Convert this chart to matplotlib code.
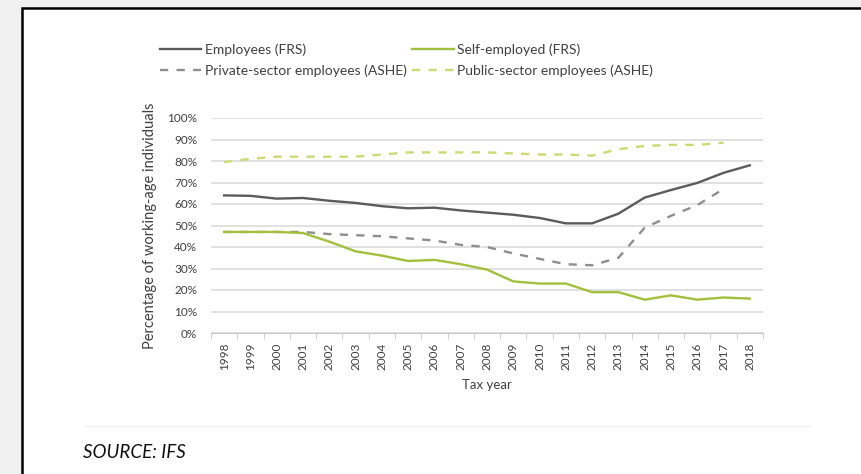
import matplotlib as mpl
mpl.use('Agg')

import matplotlib.pyplot as plt
from matplotlib.patches import Rectangle
from matplotlib.lines import Line2D
from matplotlib.ticker import FixedLocator, FuncFormatter
import numpy as np

# Data (percent of working-age individuals)
years = list(range(1998, 2019))
employees_frs = [64, 63.8, 62.5, 62.8, 61.5, 60.5, 59, 58, 58.3, 57, 56,
                 55, 53.5, 51, 51, 55.5, 63, 66.5, 69.8, 74.5, 78]
self_employed_frs = [47, 47, 47, 46.5, 42.5, 38, 36, 33.5, 34, 32, 29.5,
                     24, 23, 23, 19, 19, 15.5, 17.5, 15.5, 16.5, 16]
private_ashe = [47, 47, 47, 47, 46, 45.5, 45, 44, 43, 41, 40,
                37, 34.5, 32, 31.5, 35, 49, 54.5, 59.5, 67, np.nan]
public_ashe = [79.5, 81, 82, 82, 82, 82, 83, 84, 84, 84, 84,
               83.5, 83, 83, 82.5, 85.5, 87, 87.5, 87.5, 88.5, np.nan]

# Colours
dark_grey = "#5b5b5b"
mid_grey = "#8e8e8e"
green = "#a2c03c"
light_green = "#c9dc72"
grid_grey = "#d9d9d9"
page_grey = "#f0f0f0"
text_grey = "#404040"

plt.rcParams['font.family'] = ['Lato', 'DejaVu Sans']

W, H = 862, 474
fig = plt.figure(figsize=(W / 100, H / 100), dpi=100)
fig.patch.set_facecolor(page_grey)

# White card with black border
fig.patches.append(Rectangle((22 / W, -0.2), 1.2, 1.2 - 8 / H,
                             transform=fig.transFigure, facecolor="white",
                             edgecolor="black", linewidth=1.8, zorder=-5))
# faint edge of the embedded chart picture
fig.add_artist(Line2D([85 / W, 810 / W], [1 - 426 / H, 1 - 426 / H],
                      transform=fig.transFigure, color="#f0f0f0", lw=1,
                      zorder=-4))

ax = fig.add_axes([211 / W, 1 - 333 / H, 552 / W, 215 / H])
ax.set_facecolor("none")

l_emp, = ax.plot(years, employees_frs, color=dark_grey, lw=1.7,
                 label="Employees (FRS)")
l_priv, = ax.plot(years, private_ashe, color=mid_grey, lw=1.7,
                  dashes=(3.5, 3.5), label="Private-sector employees (ASHE)")
l_self, = ax.plot(years, self_employed_frs, color=green, lw=1.7,
                  label="Self-employed (FRS)")
l_pub, = ax.plot(years, public_ashe, color=light_green, lw=1.7,
                 dashes=(3.5, 3.5), label="Public-sector employees (ASHE)")

ax.set_xlim(1997.5, 2018.5)
ax.set_ylim(0, 100)
ax.set_yticks(range(0, 101, 10))
ax.yaxis.set_major_formatter(FuncFormatter(lambda v, p: "%d%%" % v))
ax.yaxis.grid(True, color=grid_grey, lw=1.1)
ax.set_axisbelow(True)

ax.set_xticks(years)
ax.set_xticklabels([str(y) for y in years], rotation=90, fontsize=8.5,
                   color=text_grey)
ax.xaxis.set_minor_locator(FixedLocator(np.arange(1997.5, 2019, 1)))
ax.tick_params(axis='x', which='major', length=0, pad=7)
ax.tick_params(axis='x', which='minor', length=4, color="#c8c8c8")
ax.tick_params(axis='y', length=0, labelsize=8.5, labelcolor=text_grey,
               pad=10)

for side in ["top", "right", "left"]:
    ax.spines[side].set_visible(False)
ax.spines["bottom"].set_color("#c8c8c8")

ax.set_ylabel("Percentage of working-age individuals", fontsize=10.5,
              color=text_grey, labelpad=7)
ax.set_xlabel("Tax year", fontsize=9.5, color=text_grey, labelpad=6)

fig.legend(handles=[l_emp, l_priv, l_self, l_pub], ncol=2, frameon=False,
           loc="upper left", bbox_to_anchor=(147 / W, 1 - 31 / H),
           fontsize=10, handlelength=3.0, handletextpad=0.25,
           columnspacing=0.4, labelspacing=0.6, labelcolor=text_grey)

fig.text(83 / W, 1 - 452 / H, "SOURCE: IFS", fontsize=13.5, style="italic",
         color="#111111", va="center", ha="left")

fig.savefig("out.png", dpi=100, facecolor=fig.get_facecolor())
plt.close()
